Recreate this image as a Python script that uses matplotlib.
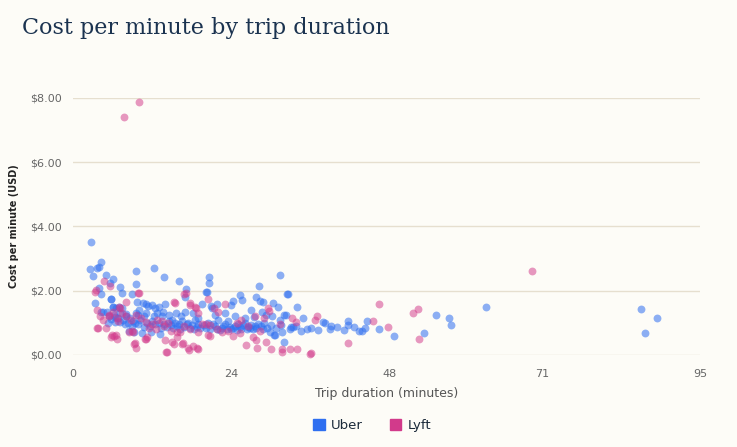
import matplotlib
matplotlib.use("Agg")
import matplotlib.pyplot as plt
import matplotlib.patches as mpatches

# ---------------------------------------------------------------------------
# Data
# ---------------------------------------------------------------------------
uber_x = [
    2.8, 2.6, 3.1, 3.7, 4.0, 4.2, 3.4, 3.9, 4.3, 5.0, 5.6, 6.0, 5.8, 5.1, 4.5, 5.3,
    6.1, 7.1, 7.5, 9.5, 9.6, 8.9, 9.7, 12.3, 13.8, 16.0, 17.1, 17.0, 20.6, 20.6,
    20.1, 21.8, 24.3, 23.9, 25.3, 25.6, 27.7, 28.2, 28.3, 28.8, 30.3, 31.4, 32.4,
    32.6, 31.1, 34.0, 34.9,
    5.7, 10.6, 11.0, 6.0, 6.5, 7.0, 7.4, 8.0, 8.1, 9.5, 9.8, 4.3, 6.4, 9.1, 9.4,
    10.4, 10.7, 6.4, 7.1,
    11.4, 12.0, 12.5, 13.0, 14.0, 12.8, 13.5, 14.5, 15.0, 15.5, 16.0, 16.5, 17.0,
    17.5, 18.0, 18.5, 19.0, 19.5, 20.3, 20.9, 21.0, 20.5, 21.5, 22.0, 22.5, 23.0,
    23.5, 24.0, 24.5, 25.0, 25.5, 26.0, 26.5, 27.0, 27.4, 27.8, 28.5, 29.3, 29.4,
    29.8, 30.4, 30.6, 31.3, 31.7, 32.0, 32.0, 32.3, 33.0, 33.3, 34.6, 35.5, 36.0,
    37.1, 37.9, 38.2, 39.1, 39.0, 40.0, 41.1, 41.6, 41.6, 42.6, 43.4, 43.8, 44.2,
    44.5, 46.4, 48.7, 53.2, 55.0, 56.9, 57.3, 62.5, 86.0, 88.5, 86.7,
    5.5, 5.8, 6.2, 6.8, 7.2, 7.6, 7.9, 8.3, 8.6, 9.0, 9.8, 10.2, 10.8, 11.2, 11.6,
    12.0, 12.4, 13.0, 13.3, 13.8, 14.2, 14.8, 15.2, 15.8, 16.2, 16.8, 17.2, 17.8,
    18.3, 18.8, 19.3, 19.8, 20.2, 20.8, 21.2, 21.8, 22.3, 22.8, 23.3, 23.8, 24.3,
    24.8, 25.3, 25.8, 26.3, 26.8, 27.3, 27.6, 28.0, 28.8, 29.0, 30.0, 30.8, 31.5,
    32.8, 33.8,
    10.0, 11.0, 12.2, 13.6, 14.6, 15.6, 16.4, 18.2, 19.0, 21.5, 23.0, 24.6, 26.0,
    27.0, 28.6, 30.2, 8.5, 9.2, 11.8, 13.2,
]
uber_y = [
    3.53, 2.67, 2.46, 2.72, 2.75, 2.90, 1.61, 2.08, 1.90, 2.48, 2.23, 2.36, 1.73,
    1.35, 1.35, 0.99, 1.50, 2.10, 1.94, 2.62, 2.20, 1.90, 1.66, 2.72, 2.41, 2.31,
    2.06, 1.79, 2.44, 2.23, 1.97, 1.58, 1.68, 1.56, 1.87, 1.71, 1.79, 2.15, 1.68,
    1.65, 1.63, 2.49, 1.89, 1.89, 1.48, 1.50, 1.16,
    1.74, 1.62, 1.60, 1.48, 1.46, 1.50, 1.47, 1.28, 1.22, 1.30, 1.25, 1.35, 1.04,
    1.05, 1.00, 0.68, 0.88, 1.19, 1.04,
    1.52, 1.55, 1.45, 1.50, 1.58, 1.30, 1.20, 1.05, 1.10, 1.00, 0.95, 1.05, 1.35,
    1.00, 0.92, 1.10, 0.95, 1.60, 1.97, 1.53, 1.45, 1.00, 0.90, 1.10, 0.85, 0.95,
    1.05, 0.80, 0.90, 0.95, 0.80, 1.00, 0.88, 0.92, 1.17, 0.85, 0.90, 1.25, 0.85,
    0.70, 0.62, 0.62, 1.09, 0.70, 1.25, 0.41, 1.25, 0.87, 0.87, 0.75, 0.82, 0.85,
    0.78, 1.03, 0.98, 0.90, 0.80, 0.88, 0.78, 0.93, 1.05, 0.88, 0.73, 0.73, 0.83,
    1.06, 0.80, 0.59, 0.68, 1.25, 1.14, 0.93, 1.48, 1.44, 1.15, 0.69,
    1.20, 1.12, 1.25, 1.15, 1.30, 1.10, 0.95, 1.00, 1.15, 0.90, 0.95, 1.10, 1.20,
    1.00, 0.90, 1.05, 0.95, 1.00, 0.85, 0.95, 0.88, 0.92, 0.85, 0.90, 0.80, 0.88,
    0.95, 0.85, 0.80, 0.88, 0.85, 0.92, 0.85, 0.80, 0.95, 0.82, 0.78, 0.90, 0.82,
    0.88, 0.85, 0.78, 0.86, 0.92, 0.80, 0.85, 0.80, 0.90, 0.95, 0.82, 1.00, 0.92,
    0.85, 0.92, 0.80, 0.90,
    1.40, 1.30, 1.20, 1.35, 1.25, 1.30, 1.20, 1.30, 1.15, 1.25, 1.30, 1.20, 1.15,
    1.40, 1.35, 1.20, 0.75, 0.70, 0.72, 0.65,
]

lyft_x = [
    10.0, 7.8, 69.5,
    4.7, 3.5, 5.6, 3.6, 4.1, 3.7, 10.0, 8.0, 5.7, 6.6, 6.5, 9.2, 9.5, 10.9, 14.1,
    15.3, 16.8, 17.7, 18.7, 20.5, 21.4, 17.6, 18.9, 18.2, 16.6, 15.3, 26.2, 27.2,
    27.9, 30.0, 31.6, 31.6, 32.9, 34.0, 35.9, 28.9, 29.7, 25.5, 25.3, 28.3, 33.2,
    33.8, 31.4,
    46.3, 45.4, 47.7, 51.5, 52.3, 52.4, 41.7, 36.1, 29.2, 27.8, 37.0, 36.6, 29.6,
    3.3, 9.9, 5.5, 5.4, 7.0, 7.1, 6.6, 6.8, 3.8, 5.9, 6.2, 8.5, 8.9, 9.1, 9.4,
    11.0, 11.2, 11.0,
    17.1, 15.5, 17.7, 18.5, 18.9, 12.0, 11.5, 12.6, 13.8, 14.4, 15.8, 16.2, 13.9,
    15.0, 15.8, 16.5, 17.5, 18.8, 14.2, 20.5, 20.8, 19.6, 20.2, 20.8,
    7.5, 8.0, 8.8, 9.6, 10.3, 12.8, 13.5, 14.8, 16.8, 17.8, 19.0, 21.8, 22.5, 23.5,
    24.2, 24.8, 26.5, 27.5, 23.0, 22.0, 5.0, 4.5, 6.0,
]
lyft_y = [
    7.88, 7.41, 2.60,
    2.31, 2.02, 2.13, 1.40, 1.22, 0.83, 1.94, 1.66, 0.55, 0.49, 0.62, 0.34, 0.23,
    0.49, 0.08, 1.66, 1.90, 1.63, 1.45, 1.73, 1.45, 0.16, 0.18, 0.29, 0.36, 0.34,
    0.31, 0.57, 0.21, 0.19, 0.19, 0.08, 0.18, 0.18, 0.03, 1.14, 1.38, 1.09, 0.68,
    0.73, 1.14, 1.01, 0.97,
    1.58, 1.07, 0.86, 1.30, 1.43, 0.49, 0.38, 0.05, 0.40, 0.45, 1.20, 1.10, 1.45,
    1.97, 1.92, 1.25, 1.20, 1.50, 1.45, 1.15, 1.05, 0.83, 0.62, 0.58, 0.72, 0.75,
    0.70, 0.36, 0.50, 0.55, 1.04,
    1.94, 1.63, 1.55, 1.50, 1.30, 0.95, 0.85, 0.80, 0.90, 0.98, 0.70, 0.72, 0.45,
    0.40, 0.56, 0.35, 0.22, 0.20, 0.10, 0.62, 0.58, 0.95, 0.96, 0.92,
    1.30, 1.20, 1.10, 1.25, 1.15, 1.10, 1.05, 0.75, 0.90, 0.80, 0.70, 0.80, 0.70,
    0.75, 0.60, 1.00, 0.90, 1.20, 1.60, 1.35, 0.85, 1.10, 1.35,
]

x_ticks = [0, 24, 48, 71, 95]
y_ticks = [0, 2, 4, 6, 8]
y_tick_labels = ["$0.00", "$2.00", "$4.00", "$6.00", "$8.00"]

UBER_COLOR = "#2f6ff0"
LYFT_COLOR = "#d23a8b"
BG = "#fdfcf7"

# ---------------------------------------------------------------------------
# Plot
# ---------------------------------------------------------------------------
fig = plt.figure(figsize=(7.37, 4.47), dpi=100, facecolor=BG)
ax = fig.add_axes([0.099, 0.206, 0.851, 0.575], facecolor=BG)

ax.scatter(uber_x, uber_y, s=32, color=UBER_COLOR, alpha=0.55, linewidths=0,
           clip_on=False, zorder=3)
ax.scatter(lyft_x, lyft_y, s=32, color=LYFT_COLOR, alpha=0.52, linewidths=0,
           clip_on=False, zorder=3)

ax.set_xlim(0, 95)
ax.set_ylim(0, 8)
ax.set_xticks(x_ticks)
ax.set_xticklabels([str(t) for t in x_ticks])
ax.set_yticks(y_ticks)
ax.set_yticklabels(y_tick_labels)
ax.tick_params(length=0, colors="#666666", labelsize=8)
ax.tick_params(axis="x", pad=10)
ax.tick_params(axis="y", pad=8)
ax.grid(axis="y", color="#e6dfcf", linewidth=1.0, zorder=0)
for s in ax.spines.values():
    s.set_visible(False)

ax.set_xlabel("Trip duration (minutes)", fontsize=9, color="#555555", labelpad=6)
ax.set_ylabel("Cost per minute (USD)", fontsize=7, color="#222222",
              fontweight="bold", labelpad=8)

fig.text(0.03, 0.925, "Cost per minute by trip duration", fontsize=16,
         family="DejaVu Serif", color="#1b3350", va="baseline")

handles = [mpatches.Patch(color=UBER_COLOR, label="Uber"),
           mpatches.Patch(color=LYFT_COLOR, label="Lyft")]
fig.legend(handles=handles, loc="center", bbox_to_anchor=(0.505, 0.048), ncol=2,
           frameon=False, fontsize=9.5, handlelength=0.9, handleheight=0.9,
           handletextpad=0.5, columnspacing=2.0, labelcolor="#1b2a3a")

fig.savefig("out.png", dpi=100, facecolor=BG)
